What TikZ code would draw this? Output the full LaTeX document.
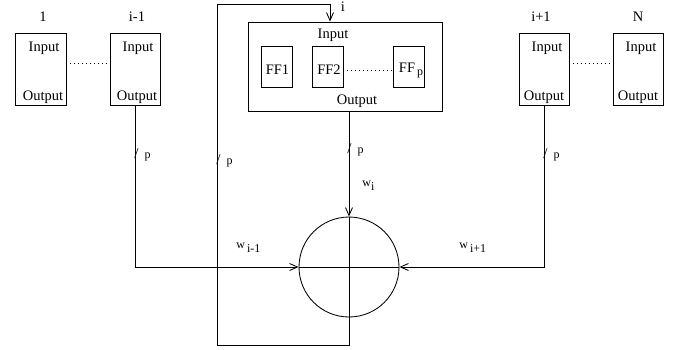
\documentclass[tikz,border=0pt]{standalone}
\usepackage{fontspec}
\setmainfont{Liberation Serif}
\usetikzlibrary{arrows.meta}
\newcommand{\busp}{{\fontsize{15}{16}\selectfont/}\hspace{6pt}p}
\begin{document}
\begin{tikzpicture}[x=1pt,y=-1pt,
  line width=0.85pt,
  every node/.style={font=\fontsize{14.5}{16}\selectfont},
  pbox/.style={draw,rectangle,minimum width=50pt,minimum height=72pt,inner sep=0pt},
  ffbox/.style={draw,rectangle,minimum width=31pt,minimum height=41pt,inner sep=0pt},
  txt/.style={inner sep=0pt},
  small/.style={inner sep=0pt,font=\fontsize{12}{14}\selectfont},
  arr/.style={-{Straight Barb[length=8pt,width=7pt,line width=0.85pt]}},
  dots/.style={dash pattern=on 0.9pt off 3.1pt}]
\useasboundingbox (0,0) rectangle (684,349);

% processor boxes
\node[pbox,minimum width=51pt] (b1) at (40.5,69) {};
\node[pbox] (bim1) at (135,69) {};
\node[pbox] (bip1) at (544,69) {};
\node[pbox] (bN) at (638,69) {};
\node[draw,rectangle,minimum width=194pt,minimum height=89pt,inner sep=0pt] (big) at (345,66.5) {};
\node[ffbox] (ff1) at (276.5,66.5) {};
\node[ffbox] (ff2) at (327.5,66.5) {};
\node[ffbox] (ffp) at (408.5,66.5) {};

% box labels
\node[txt] (l1) at (43,17) {1};
\node[txt] (lim1) at (137,17) {i-1};
\node[txt] (li) at (343,7) {i};
\node[txt] (lip1) at (541,17) {i+1};
\node[txt] (lN) at (638,17) {N};

\node[txt] (in1) at (44,48) {Input};
\node[txt] (out1) at (43,97) {Output};
\node[txt] (inim1) at (138,48) {Input};
\node[txt] (outim1) at (137,97) {Output};
\node[txt] (inip1) at (547,48) {Input};
\node[txt] (outip1) at (544,97) {Output};
\node[txt] (inN) at (641,48) {Input};
\node[txt] (outN) at (638,97) {Output};
\node[txt] (inbig) at (333,35) {Input};
\node[txt] (outbig) at (357,101) {Output};
\node[txt] (tff1) at (277.5,70) {FF1};
\node[txt] (tff2) at (329,70) {FF2};
\node[txt] (tffp) at (411,71) {FF\raisebox{-0.45ex}{\fontsize{12}{14}\selectfont\,p}};

% dotted links
\draw[dots] ([yshift=6pt]b1.east) -- ([yshift=6pt]bim1.west);
\draw[dots] ([yshift=6pt]bip1.east) -- ([yshift=6pt]bN.west);
\draw[dots] ([yshift=-3.5pt]ff2.east) -- ([yshift=-3.5pt]ffp.west);

% summation node
\node[draw,circle,minimum size=100pt,inner sep=0pt] (sum) at (349,267) {};

% connectors
\draw[arr] (bim1.south) |- (sum.west);
\draw[arr] (bip1.south) |- (sum.east);
\draw[arr] (big.south -| sum.north) -- (sum.north);
\draw (sum.west) -- (sum.east);
\coordinate (br) at (349,345);
\coordinate (bl) at (217,345);
\coordinate (tl) at (217,4);
\coordinate (tr) at (330,4);
\draw[arr] (sum.north) -- (br) -- (bl) -- (tl) -- (tr) -- (big.north -| tr);

% bus width labels
\node[small,anchor=base west] (p1) at (134,158) {\busp};
\node[small,anchor=base west] (p2) at (216,164) {\busp};
\node[small,anchor=base west] (p3) at (347,153) {\busp};
\node[small,anchor=base west] (p4) at (543,158) {\busp};

% weights
\node[small,anchor=base west] (wi) at (362,186) {w\raisebox{-0.8ex}{i}};
\node[small,anchor=base west] (wim1) at (236,248) {w\raisebox{-0.9ex}{\,i-1}};
\node[small,anchor=base west] (wip1) at (459,248) {w\raisebox{-0.9ex}{\,i+1}};
\end{tikzpicture}
\end{document}
